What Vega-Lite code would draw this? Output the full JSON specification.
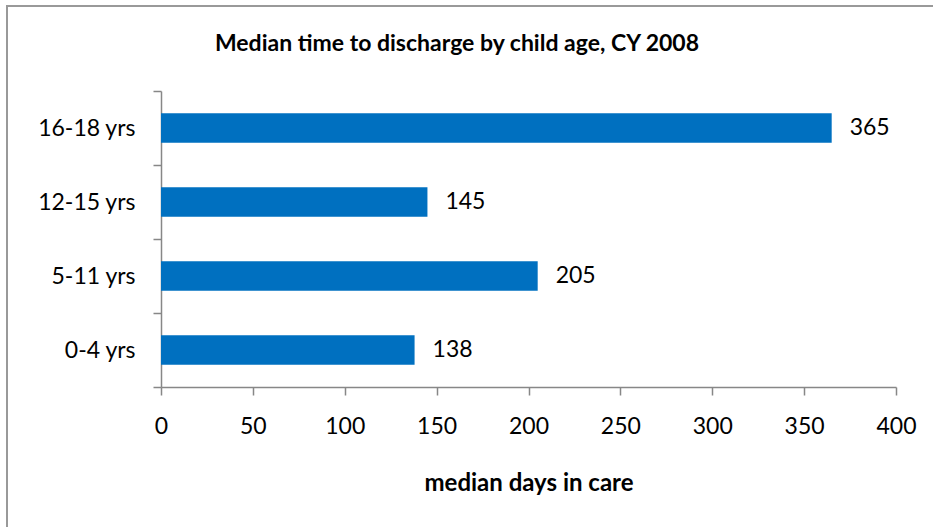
{
  "$schema": "https://vega.github.io/schema/vega-lite/v6.json",
  "autosize": {"type": "none"},
  "padding": {"left": 7, "top": 6, "right": 0, "bottom": 0},
  "width": 930,
  "height": 525,
  "background": "white",
  "title": {
    "text": "Median time to discharge by child age, CY 2008",
    "font": "Lato",
    "fontSize": 23,
    "fontWeight": "bold",
    "color": "#000000",
    "anchor": "middle",
    "dx": -15,
    "baseline": "middle",
    "offset": -72
  },
  "data": {
    "values": [
      {"age": "16-18 yrs", "days": 365},
      {"age": "12-15 yrs", "days": 145},
      {"age": "5-11 yrs", "days": 205},
      {"age": "0-4 yrs", "days": 138}
    ]
  },
  "encoding": {
    "y": {
      "field": "age",
      "type": "nominal",
      "sort": ["16-18 yrs", "12-15 yrs", "5-11 yrs", "0-4 yrs"],
      "scale": {"range": [85, 381], "paddingInner": 0, "paddingOuter": 0},
      "axis": {
        "title": null,
        "offset": -154,
        "tickBand": "extent",
        "tickSize": 8,
        "labelPadding": 18,
        "labelFont": "Lato",
        "labelFontSize": 23,
        "labelColor": "#000000",
        "domainColor": "#878787",
        "tickColor": "#878787",
        "domainWidth": 1.5,
        "tickWidth": 1.5,
        "grid": false
      }
    },
    "x": {
      "field": "days",
      "type": "quantitative",
      "scale": {"domain": [0, 400], "range": [154, 889], "nice": false},
      "axis": {
        "title": "median days in care",
        "offset": -144,
        "values": [0, 50, 100, 150, 200, 250, 300, 350, 400],
        "labelFlush": false,
        "tickSize": 8,
        "labelPadding": 20,
        "labelFont": "Lato",
        "labelFontSize": 23,
        "labelColor": "#000000",
        "titleFont": "Lato",
        "titleFontSize": 24,
        "titleFontWeight": "bold",
        "titleColor": "#000000",
        "titlePadding": 33,
        "domainColor": "#878787",
        "tickColor": "#878787",
        "domainWidth": 1.5,
        "tickWidth": 1.5,
        "grid": false
      }
    }
  },
  "layer": [
    {
      "mark": {"type": "bar", "color": "#0070C0", "height": {"band": 0.4}}
    },
    {
      "mark": {"type": "text", "align": "left", "baseline": "middle", "dx": 18, "font": "Lato", "fontSize": 23, "color": "#000000"},
      "encoding": {"text": {"field": "days", "type": "quantitative"}}
    }
  ],
  "config": {
    "view": {"stroke": "#999999", "strokeWidth": 2}
  }
}
